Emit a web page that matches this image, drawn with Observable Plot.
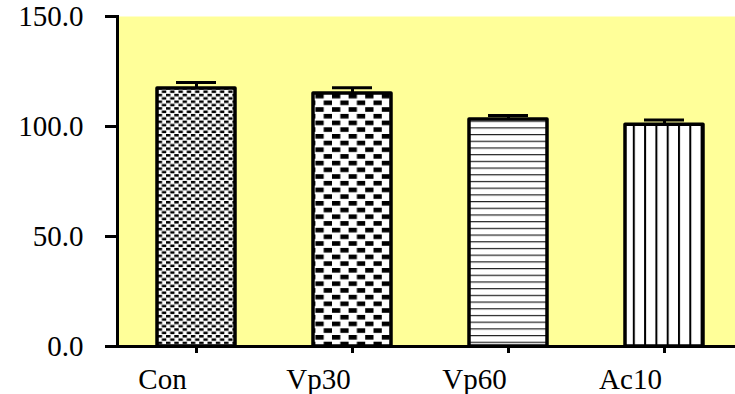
<!DOCTYPE html>
<html>
<head>
<meta charset="utf-8">
<script src="https://cdn.jsdelivr.net/npm/d3@7"></script>
<script src="https://cdn.jsdelivr.net/npm/@observablehq/plot@0.6"></script>
<style>
  html, body { margin: 0; padding: 0; background: #fff; }
  #chart svg { display: block; }
  #chart svg text { font-weight: normal; stroke: none; }
</style>
</head>
<body>
<div id="chart"></div>
<script>
const categories = ["Con", "Vp30", "Vp60", "Ac10"];
const means = [117.3, 115.0, 103.2, 100.8];
const errors = [2.7, 2.6, 1.8, 2.2];
const yTicks = [0, 50, 100, 150];
const patternIds = ["url(#pCon)", "url(#pVp30)", "url(#pVp60)", "url(#pAc10)"];

const data = categories.map((c, i) => ({cat: c, value: means[i], top: means[i] + errors[i]}));

const font = "'Liberation Serif', 'Times New Roman', serif";

const chart = Plot.plot({
  width: 735,
  height: 394,
  marginLeft: 117,
  marginRight: 0,
  marginTop: 16,
  marginBottom: 48,
  style: {fontFamily: font, fontSize: "29px", background: "transparent", color: "black"},
  x: {type: "band", domain: categories, range: [155, 704], paddingInner: 0.503, paddingOuter: 0, label: null},
  y: {domain: [0, 150], label: null},
  color: {type: "ordinal", domain: categories, range: patternIds},
  marks: [
    Plot.frame({fill: "#ffff99", stroke: null}),
    Plot.barY(data, {x: "cat", y: "value", fill: "cat", stroke: "black", strokeWidth: 3.5, strokeLinejoin: "round"}),
    Plot.ruleX(data, {x: "cat", y1: "value", y2: "top", stroke: "black", strokeWidth: 3}),
    Plot.tickY(data, {x: "cat", y: "top", stroke: "black", strokeWidth: 3, inset: 19}),
    Plot.frame({anchor: "left", stroke: "black", strokeWidth: 3}),
    Plot.ruleY([0], {stroke: "black", strokeWidth: 3}),
    // tick marks
    Plot.axisY({ticks: yTicks, tickSize: 12, strokeWidth: 3, tickFormat: () => "", label: null}),
    Plot.axisX({tickSize: 7, strokeWidth: 3, tickFormat: () => "", label: null}),
    // tick labels
    Plot.axisY({ticks: yTicks, tickFormat: d3.format(".1f"), tickSize: 0, tickPadding: 34, fontSize: 29, fontWeight: "normal", label: null}),
    Plot.axisX({tickSize: 0, tickPadding: 22, fontSize: 29, fontWeight: "normal", dx: -34, label: null})
  ]
});

// pattern definitions for bar fills
const svg = d3.select(chart);
const defs = svg.insert("defs", ":first-child");

const pCon = defs.append("pattern").attr("id", "pCon").attr("patternUnits", "userSpaceOnUse")
  .attr("width", 8.3).attr("height", 6.7);
pCon.append("rect").attr("width", 8.3).attr("height", 6.7).attr("fill", "white");
pCon.append("rect").attr("x", 0).attr("y", 0).attr("width", 4.4).attr("height", 2.5).attr("fill", "black");
pCon.append("rect").attr("x", 4.15).attr("y", 3.35).attr("width", 4.4).attr("height", 2.5).attr("fill", "black");
pCon.append("rect").attr("x", -4.15).attr("y", 3.35).attr("width", 4.4).attr("height", 2.5).attr("fill", "black");

const pVp30 = defs.append("pattern").attr("id", "pVp30").attr("patternUnits", "userSpaceOnUse")
  .attr("width", 16.6).attr("height", 13.4);
pVp30.append("rect").attr("width", 16.6).attr("height", 13.4).attr("fill", "white");
pVp30.append("rect").attr("x", 0).attr("y", 0).attr("width", 8.3).attr("height", 4.6).attr("fill", "black");
pVp30.append("rect").attr("x", 8.3).attr("y", 6.7).attr("width", 8.3).attr("height", 4.6).attr("fill", "black");

const pVp60 = defs.append("pattern").attr("id", "pVp60").attr("patternUnits", "userSpaceOnUse")
  .attr("width", 10).attr("height", 6.7);
pVp60.append("rect").attr("width", 10).attr("height", 6.7).attr("fill", "white");
pVp60.append("rect").attr("x", 0).attr("y", 0).attr("width", 10).attr("height", 1.2).attr("fill", "#222");

const pAc10 = defs.append("pattern").attr("id", "pAc10").attr("patternUnits", "userSpaceOnUse")
  .attr("width", 11.3).attr("height", 10);
pAc10.append("rect").attr("width", 11.3).attr("height", 10).attr("fill", "white");
pAc10.append("rect").attr("x", 0).attr("y", 0).attr("width", 2).attr("height", 10).attr("fill", "black");

document.getElementById("chart").appendChild(chart);
</script>
</body>
</html>
